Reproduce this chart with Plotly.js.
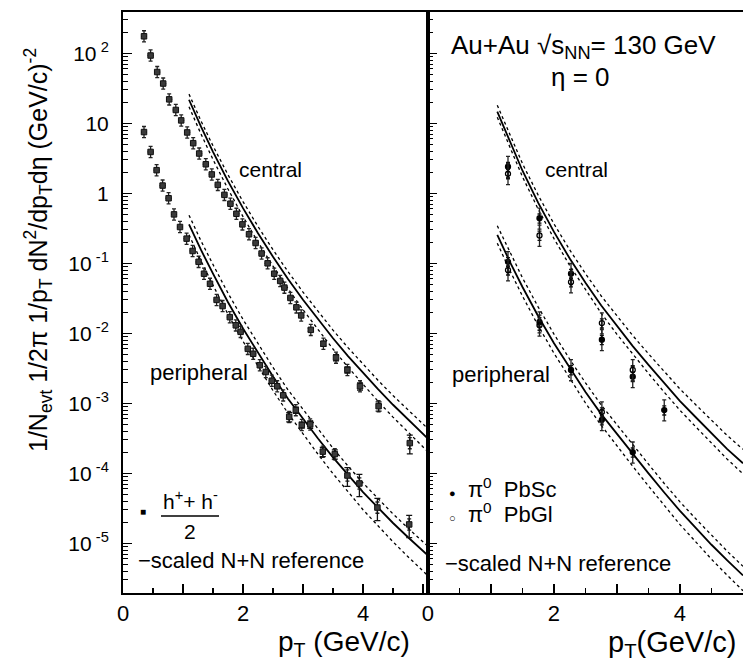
<!DOCTYPE html>
<html>
<head>
<meta charset="utf-8">
<script src="https://cdn.plot.ly/plotly-3.0.1.min.js"></script>
<style>html,body{margin:0;padding:0;background:#fff;}</style>
</head>
<body>
<div id="chart" style="width:743px;height:663px;"></div>
<script>
// ---- h+ + h- (left panel) ----
const hCentralX = [0.35,0.46,0.57,0.67,0.77,0.88,0.97,1.07,1.17,1.27,1.38,1.48,1.58,1.69,1.79,1.89,1.99,2.10,2.21,2.31,2.41,2.52,2.62,2.69,2.79,2.89,2.97,3.13,3.34,3.55,3.74,3.95,4.26,4.78];
const hCentralY = [175,93,54,37,22,15.5,11,7.4,5.2,3.7,2.6,1.86,1.32,0.95,0.71,0.51,0.36,0.26,0.195,0.138,0.1,0.071,0.056,0.045,0.032,0.0235,0.018,0.0112,0.0071,0.0045,0.003,0.00175,0.00091,0.00027];
const hCentralStat = [0,0,0,0,0,0,0,0,0,0,0,0,0,0,0,0,0,0,0,0,0,0,0,0,0,0,0,0.05,0.08,0.1,0.1,0.12,0.15,0.3];

const hPeriphX = [0.35,0.46,0.56,0.66,0.76,0.85,0.95,1.06,1.16,1.26,1.35,1.45,1.56,1.66,1.78,1.88,1.96,2.08,2.17,2.28,2.38,2.48,2.57,2.67,2.77,2.88,2.98,3.12,3.33,3.53,3.74,3.94,4.24,4.77];
const hPeriphY = [7.5,3.9,2.14,1.29,0.85,0.50,0.33,0.225,0.15,0.105,0.071,0.051,0.030,0.0245,0.017,0.013,0.0105,0.006,0.0051,0.0035,0.0028,0.0021,0.00175,0.0013,0.00064,0.0008,0.00049,0.0005,0.000204,0.000188,0.000093,0.0000716,0.0000324,0.0000186];
const hPeriphStat = [0,0,0,0,0,0,0,0,0,0,0,0,0,0,0,0,0,0,0,0,0,0,0,0,0.15,0.1,0.1,0.12,0.15,0.15,0.3,0.35,0.35,0.35];

// ---- scaled N+N reference (left panel) ----
const refXLeft = [1.1,1.3,1.5,1.75,2.0,2.25,2.5,2.75,3.0,3.25,3.5,3.75,4.0,4.25,4.5,4.75,5.0,5.1];
const refCenLeft   = [21.7,8.93,3.91,1.49,0.614,0.269,0.124,0.0597,0.0301,0.0157,0.00849,0.00473,0.0027,0.00159,0.000953,0.000583,0.000365,0.000303];
const refCenLeftHi = [26.1,10.8,4.76,1.84,0.761,0.336,0.156,0.0760,0.0387,0.0204,0.0111,0.00624,0.00359,0.00213,0.00129,0.000796,0.000502,0.000419];
const refCenLeftLo = [17.3,7.02,3.04,1.15,0.465,0.201,0.0913,0.0435,0.0217,0.0112,0.00596,0.00328,0.00185,0.00107,0.000635,0.000384,0.000237,0.000196];
const refPerLeft   = [0.361,0.155,0.0711,0.0278,0.0117,0.00524,0.00241,0.00116,0.000601,0.000314,0.000169,9.44e-5,5.40e-5,3.24e-5,1.95e-5,1.22e-5,7.80e-6,6.49e-6];
const refPerLeftHi = [0.487,0.209,0.0959,0.0375,0.0158,0.00707,0.00325,0.00156,0.000811,0.000424,0.000228,1.27e-4,7.28e-5,4.37e-5,2.63e-5,1.65e-5,1.05e-5,8.75e-6];
const refPerLeftLo = [0.255,0.108,0.0488,0.01866,0.0077,0.00338,0.00152,0.000721,0.000365,0.000187,9.89e-5,5.40e-5,3.02e-5,1.78e-5,1.05e-5,6.43e-6,4.03e-6,3.33e-6];

// ---- pi0 (right panel) ----
const piCenX = [1.27,1.77,2.27,2.76,3.25,3.75];
const piCenPbSc = [2.4,0.44,0.071,0.0081,0.0024,0.0008];
const piCenPbGlX = [1.27,1.77,2.27,2.76,3.25];
const piCenPbGl = [1.9,0.25,0.054,0.014,0.0030];
const piPerX = [1.27,1.77,2.27,2.76,3.25];
const piPerPbSc = [0.105,0.0145,0.0030,0.00058,0.0002];
const piPerPbGlX = [1.27,1.77,2.76];
const piPerPbGl = [0.08,0.013,0.00075];

// ---- scaled N+N reference (right panel) ----
const refXRight = [1.1,1.3,1.5,1.75,2.0,2.25,2.5,2.75,3.0,3.25,3.5,3.75,4.0,4.25,4.5,4.75,5.0];
const refCenRight   = [14.7,5.38,2.10,0.731,0.281,0.117,0.0527,0.0249,0.01256,0.00656,0.00354,0.00193,0.001076,0.000632,0.000371,0.000222,0.000139];
const refCenRightHi = [18.1,6.71,2.65,0.938,0.366,0.155,0.0710,0.0341,0.0175,0.00928,0.00509,0.00282,0.0016,0.000954,0.000569,0.000346,0.00022];
const refCenRightLo = [12.2,4.44,1.72,0.592,0.225,0.0929,0.0414,0.0193,0.00966,0.00499,0.00267,0.00144,0.000794,0.000462,0.000268,0.000159,9.82e-5];
const refPerRight   = [0.255,0.105,0.0459,0.01754,0.00721,0.00316,0.00145,0.000701,0.000362,0.000189,9.98e-5,5.31e-5,2.90e-5,1.66e-5,9.53e-6,5.70e-6,3.48e-6];
const refPerRightHi = [0.344,0.142,0.0619,0.0237,0.00973,0.00426,0.00196,0.000946,0.000488,0.000255,0.000135,7.16e-5,3.91e-5,2.24e-5,1.29e-5,7.69e-6,4.69e-6];
const refPerRightLo = [0.194,0.0787,0.0340,0.0128,0.00519,0.00224,0.00101,0.000483,0.000245,0.000126,6.58e-5,3.44e-5,1.85e-5,1.05e-5,5.92e-6,3.49e-6,2.10e-6];

// ---- axis ticks ----
const yTickVals = [1e-5,1e-4,1e-3,1e-2,1e-1,1,10,100];
const yTickText = ['10<sup> -5</sup>','10<sup> -4</sup>','10<sup> -3</sup>','10<sup> -2</sup>','10<sup> -1</sup>','1','10','10<sup> 2</sup>'];
const xTickVals = [0,1,2,3,4,5];
const xTickText = ['0','','2','','4',''];

const yMinor = [];
for (let e = -6; e <= 2; e++) for (let m = 2; m <= 9; m++) yMinor.push(m * Math.pow(10, e));

const FONT = 'Liberation Sans, Arial, sans-serif';
const traces = [];

function line(x, y, xa, ya, dash, w) {
  traces.push({x: x, y: y, xaxis: xa, yaxis: ya, mode: 'lines', type: 'scatter',
    line: {color: '#000', width: w, dash: dash}, hoverinfo: 'skip', showlegend: false});
}
[[refCenLeft, refCenLeftHi, refCenLeftLo], [refPerLeft, refPerLeftHi, refPerLeftLo]].forEach(s => {
  line(refXLeft, s[0], 'x', 'y', 'solid', 1.8);
  line(refXLeft, s[1], 'x', 'y', 'dot', 1.3);
  line(refXLeft, s[2], 'x', 'y', 'dot', 1.3);
});
[[refCenRight, refCenRightHi, refCenRightLo], [refPerRight, refPerRightHi, refPerRightLo]].forEach(s => {
  line(refXRight, s[0], 'x2', 'y2', 'solid', 1.8);
  line(refXRight, s[1], 'x2', 'y2', 'dot', 1.3);
  line(refXRight, s[2], 'x2', 'y2', 'dot', 1.3);
});

function hSeries(x, y, stat) {
  traces.push({x: x, y: y, xaxis: 'x', yaxis: 'y', mode: 'markers', type: 'scatter',
    marker: {size: 1, color: 'rgba(0,0,0,0)'}, showlegend: false, hoverinfo: 'skip',
    error_y: {type: 'percent', value: 20, valueminus: 17, symmetric: false, color: '#222', thickness: 1.3, width: 2}});
  traces.push({x: x, y: y, xaxis: 'x', yaxis: 'y', mode: 'markers', type: 'scatter',
    marker: {symbol: 'square', size: 5.5, color: '#3a3a3a', line: {color: '#111', width: 1}}, showlegend: false,
    error_y: {type: 'data', array: y.map((v, i) => v * stat[i]), color: '#111', thickness: 1.3, width: 3}});
}
hSeries(hCentralX, hCentralY, hCentralStat);
hSeries(hPeriphX, hPeriphY, hPeriphStat);

function piSeries(x, y, filled) {
  traces.push({x: x, y: y, xaxis: 'x2', yaxis: 'y2', mode: 'markers', type: 'scatter',
    marker: {size: 1, color: 'rgba(0,0,0,0)'}, showlegend: false, hoverinfo: 'skip',
    error_y: {type: 'percent', value: 40, valueminus: 30, symmetric: false, color: '#222', thickness: 1.3, width: 2}});
  traces.push({x: x, y: y, xaxis: 'x2', yaxis: 'y2', mode: 'markers', type: 'scatter',
    marker: {symbol: filled ? 'circle' : 'circle-open', size: 5, color: '#000', line: {color: '#000', width: 1.3}},
    showlegend: false, error_y: {type: 'percent', value: 15, color: '#111', thickness: 1.3, width: 2}});
}
piSeries(piCenX, piCenPbSc, true);
piSeries(piCenPbGlX, piCenPbGl, false);
piSeries(piPerX, piPerPbSc, true);
piSeries(piPerPbGlX, piPerPbGl, false);

const xBase = {
  ticks: 'inside', ticklen: 9, tickwidth: 1.5, tickcolor: '#000',
  minor: {dtick: 0.5, tick0: 0, ticks: 'inside', ticklen: 5, tickwidth: 1.2, tickcolor: '#000'},
  tickmode: 'array', tickvals: xTickVals, ticktext: xTickText,
  showline: true, linecolor: '#000', linewidth: 2, mirror: true,
  showgrid: false, zeroline: false, tickfont: {family: FONT, size: 22, color: '#000'}
};
const yBase = {
  type: 'log', range: [-5.71, 2.59], domain: [0, 1],
  tickmode: 'array', tickvals: yTickVals, ticktext: yTickText,
  ticks: 'inside', ticklen: 9, tickwidth: 1.5, tickcolor: '#000',
  minor: {tickmode: 'array', tickvals: yMinor, ticks: 'inside', ticklen: 5, tickwidth: 1.1, tickcolor: '#000'},
  showline: true, linecolor: '#000', linewidth: 2, showgrid: false, zeroline: false,
  tickfont: {family: FONT, size: 21, color: '#000'}
};

const px = v => (v - 123) / 620;
const py = v => (593 - v) / 581;
function ann(text, x, y, size, extra) {
  return Object.assign({text: text, xref: 'paper', yref: 'paper', x: px(x), y: py(y),
    xanchor: 'center', yanchor: 'middle',
    showarrow: false, font: {family: FONT, size: size, color: '#000'}}, extra || {});
}

const layout = {
  width: 743, height: 663,
  margin: {l: 123, r: 0, t: 12, b: 70},
  paper_bgcolor: '#fff', plot_bgcolor: '#fff',
  showlegend: false,
  xaxis: Object.assign({}, xBase, {domain: [0, 0.4919], range: [0, 5.083], anchor: 'y'}),
  xaxis2: Object.assign({}, xBase, {domain: [0.4919, 1], range: [0, 5.0], anchor: 'y2'}),
  yaxis: Object.assign({}, yBase, {anchor: 'x', mirror: true, ticklabelstandoff: 8}),
  yaxis2: Object.assign({}, yBase, {anchor: 'x2', showticklabels: false, mirror: false}),
  annotations: [
    ann('1/N<sub>evt</sub> 1/2π 1/p<sub>T</sub> dN<sup>2</sup>/dp<sub>T</sub>dη (GeV/c)<sup>-2</sup>', 38, 250, 25, {textangle: -90}),
    ann('p<sub>T</sub> (GeV/c)', 344, 644, 28),
    ann('p<sub>T</sub>(GeV/c)', 672, 644, 29),
    ann('central', 270, 170, 21),
    ann('peripheral', 199, 372, 22),
    ann('central', 576, 170, 21),
    ann('peripheral', 501, 375, 22),
    ann('Au+Au √s<sub>NN</sub>= 130 GeV', 583, 47, 26),
    ann('η = 0', 580, 77, 26),
    ann('■', 143, 511, 10),
    ann('h<sup>+</sup>+ h<sup>-</sup>', 190, 500, 21),
    ann('2', 190, 531, 21),
    ann('−scaled N+N reference', 251, 560, 22),
    ann('<span style="font-size:11px">●</span>  π<sup>0</sup>  PbSc', 447, 488, 22, {xanchor: 'left'}),
    ann('<span style="font-size:11px">○</span>  π<sup>0</sup>  PbGl', 447, 513, 22, {xanchor: 'left'}),
    ann('−scaled N+N reference', 443, 563, 22, {xanchor: 'left'})
  ],
  shapes: [
    {type: 'line', xref: 'paper', yref: 'paper', x0: px(161), x1: px(219), y0: py(516), y1: py(516), line: {color: '#000', width: 1.5}}
  ]
};

Plotly.newPlot('chart', traces, layout, {staticPlot: true, displayModeBar: false});
</script>
</body>
</html>
